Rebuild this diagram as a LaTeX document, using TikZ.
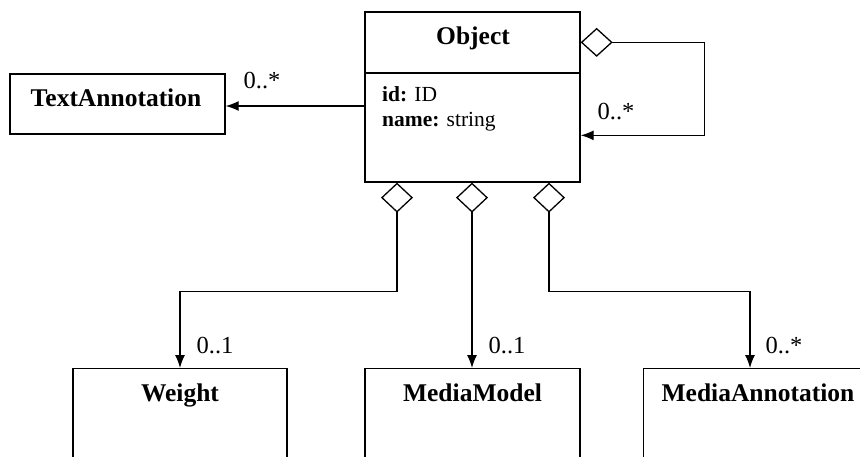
\documentclass[tikz,border=0pt]{standalone}
\usepackage{fontspec}
\setmainfont{Liberation Serif}
\usetikzlibrary{arrows.meta}
\begin{document}
\begin{tikzpicture}[x=1pt,y=-1pt,
  box/.style={draw,line width=1.3pt,inner sep=0pt},
  ttl/.style={font=\fontsize{25.5}{28}\selectfont\bfseries,anchor=base,inner sep=0pt},
  attr/.style={font=\fontsize{21.5}{24}\selectfont,anchor=base west,inner sep=0pt},
  mult/.style={font=\fontsize{24.5}{27}\selectfont,anchor=base,inner sep=0pt},
  line/.style={line width=1.3pt},
  arr/.style={line,-{Latex[length=13pt,width=10pt]}},
  agg/.style={line,{Diamond[open,length=30pt,width=32pt]}-{Latex[length=13pt,width=10pt]}},
  aggh/.style={line,{Diamond[open,length=32pt,width=29pt]}-{Latex[length=13pt,width=10pt]}}]
\useasboundingbox (0,0) rectangle (860,457);
\clip (0,0) rectangle (860,457);
% Object
\node[box,minimum width=215pt,minimum height=170pt] (obj) at (472.5,97) {};
\draw[line width=2.4pt] (obj.west |- 0,73) -- (obj.east |- 0,73);
\node[ttl] (objt) at (473,45) {Object};
\node[attr] (a1) at (382,102) {\textbf{id:} ID};
\node[attr] (a2) at (382,127) {\textbf{name:} string};
% TextAnnotation
\node[box,minimum width=215pt,minimum height=60pt] (ta) at (117.5,104) {};
\node[ttl] (tat) at (116,107) {TextAnnotation};
% bottom boxes
\node[box,minimum width=214pt,minimum height=160pt,anchor=north] (w) at (180,368) {};
\node[ttl] (wt) at (180,401) {Weight};
\node[box,minimum width=215pt,minimum height=160pt,anchor=north] (mm) at (472.5,368) {};
\node[ttl] (mmt) at (472.5,401) {MediaModel};
\node[box,minimum width=232pt,minimum height=160pt,anchor=north west] (ma) at (643,368) {};
\node[ttl] (mat) at (758,401) {MediaAnnotation};
% coordinates
\coordinate (d1) at ([xshift=-75.5pt]obj.south);
\coordinate (d2) at ([xshift=-0.5pt]obj.south);
\coordinate (d3) at ([xshift=76.5pt]obj.south);
\coordinate (mat0) at ([xshift=107pt]ma.north west);
\coordinate (s0) at ([yshift=-31pt]obj.north east);
\coordinate (s1) at ([yshift=-124pt]obj.north east);
% connectors
\draw[arr] ([yshift=-2pt]obj.west |- ta.east) -- ([yshift=-2pt]ta.east);
\draw[aggh] (s0) -- ++(124,0) |- (s1);
\draw[agg] (d1) -- ++(0,109) -| (w.north);
\draw[agg] (d2) -- (d2 |- mm.north);
\draw[agg] (d3) -- ++(0,109) -| (mat0);
% multiplicities
\node[mult] (m1) at (262,89) {0..*};
\node[mult] (m2) at (616,120) {0..*};
\node[mult] (m3) at (215,353) {0..1};
\node[mult] (m4) at (507,353) {0..1};
\node[mult] (m5) at (784,353) {0..*};
\end{tikzpicture}
\end{document}
